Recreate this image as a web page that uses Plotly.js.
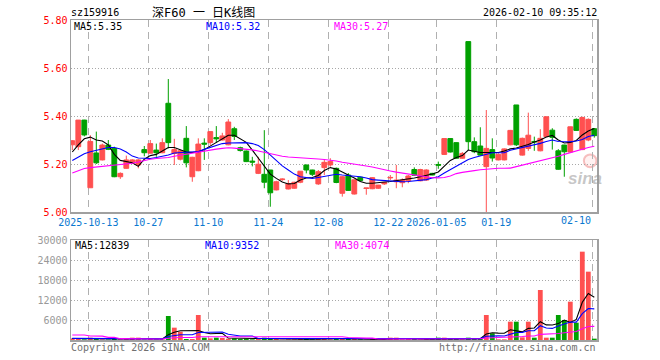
<!DOCTYPE html>
<html>
<head>
<meta charset="utf-8">
<script src="https://cdn.plot.ly/plotly-3.0.1.min.js"></script>
<style>html,body{margin:0;padding:0;background:#fff;}#chart{width:660px;height:360px;}</style>
</head>
<body>
<div id="chart"></div>
<script>
// ---- data ----
const dates = [
 '2025-09-30','2025-10-09','2025-10-10','2025-10-13','2025-10-14','2025-10-15','2025-10-16','2025-10-17','2025-10-20','2025-10-21',
 '2025-10-22','2025-10-23','2025-10-24','2025-10-27','2025-10-28','2025-10-29','2025-10-30','2025-10-31','2025-11-03','2025-11-04',
 '2025-11-05','2025-11-06','2025-11-07','2025-11-10','2025-11-11','2025-11-12','2025-11-13','2025-11-14','2025-11-17','2025-11-18',
 '2025-11-19','2025-11-20','2025-11-21','2025-11-24','2025-11-25','2025-11-26','2025-11-27','2025-11-28','2025-12-01','2025-12-02',
 '2025-12-03','2025-12-04','2025-12-05','2025-12-08','2025-12-09','2025-12-10','2025-12-11','2025-12-12','2025-12-15','2025-12-16',
 '2025-12-17','2025-12-18','2025-12-19','2025-12-22','2025-12-23','2025-12-24','2025-12-25','2025-12-26','2025-12-29','2025-12-30',
 '2025-12-31','2026-01-05','2026-01-06','2026-01-07','2026-01-08','2026-01-09','2026-01-12','2026-01-13','2026-01-14','2026-01-15',
 '2026-01-16','2026-01-19','2026-01-20','2026-01-21','2026-01-22','2026-01-23','2026-01-26','2026-01-27','2026-01-28','2026-01-29',
 '2026-01-30','2026-02-02','2026-02-03','2026-02-04','2026-02-05','2026-02-06','2026-02-09','2026-02-10'];

const openP = [
 5.28,5.272,5.383,5.101,5.246,5.217,5.279,5.265,5.147,5.182,
 5.205,5.196,5.26,5.245,5.258,5.247,5.453,5.244,5.22,5.307,
 5.147,5.172,5.287,5.289,5.31,5.30,5.28,5.347,5.268,5.254,
 5.212,5.161,5.157,5.175,5.092,5.135,5.096,5.099,5.124,5.196,
 5.175,5.117,5.185,5.196,5.182,5.078,5.154,5.075,5.145,5.098,
 5.097,5.099,5.117,5.142,5.126,5.122,5.13,5.177,5.13,5.133,
 5.161,5.198,5.24,5.306,5.289,5.224,5.71,5.293,5.275,5.189,
 5.26,5.217,5.217,5.28,5.446,5.237,5.265,5.294,5.255,5.314,
 5.341,5.255,5.279,5.25,5.386,5.26,5.30,5.347];
const highP = [
 5.30,5.383,5.384,5.32,5.335,5.285,5.30,5.272,5.165,5.235,
 5.22,5.22,5.275,5.30,5.285,5.307,5.554,5.305,5.26,5.358,
 5.23,5.307,5.307,5.335,5.358,5.33,5.387,5.355,5.272,5.256,
 5.23,5.23,5.341,5.175,5.13,5.14,5.133,5.126,5.17,5.197,
 5.176,5.175,5.217,5.224,5.185,5.15,5.162,5.135,5.146,5.10,
 5.145,5.113,5.125,5.154,5.196,5.14,5.154,5.186,5.18,5.178,
 5.163,5.21,5.306,5.307,5.29,5.25,5.71,5.311,5.353,5.425,
 5.307,5.245,5.265,5.342,5.446,5.31,5.414,5.314,5.345,5.397,
 5.349,5.262,5.28,5.356,5.39,5.397,5.39,5.35];
const lowP = [
 5.258,5.258,5.315,5.10,5.20,5.215,5.258,5.145,5.138,5.18,
 5.20,5.182,5.232,5.244,5.23,5.245,5.265,5.196,5.215,5.186,
 5.126,5.17,5.217,5.28,5.289,5.298,5.278,5.30,5.252,5.208,
 5.19,5.158,5.099,5.022,5.09,5.13,5.094,5.097,5.12,5.161,
 5.15,5.113,5.154,5.189,5.12,5.064,5.088,5.073,5.13,5.072,
 5.095,5.096,5.113,5.133,5.099,5.103,5.12,5.15,5.128,5.13,
 5.153,5.18,5.238,5.248,5.222,5.222,5.258,5.245,5.235,5.0,
 5.21,5.215,5.215,5.278,5.275,5.235,5.255,5.255,5.253,5.312,
 5.26,5.176,5.147,5.249,5.338,5.258,5.295,5.31];
const closeP = [
 5.297,5.383,5.321,5.294,5.205,5.279,5.261,5.147,5.161,5.217,
 5.217,5.217,5.247,5.285,5.247,5.289,5.289,5.26,5.255,5.205,
 5.228,5.283,5.283,5.335,5.305,5.317,5.375,5.315,5.256,5.21,
 5.208,5.199,5.124,5.08,5.126,5.137,5.118,5.124,5.17,5.175,
 5.157,5.168,5.207,5.21,5.123,5.147,5.09,5.134,5.131,5.10,
 5.143,5.112,5.123,5.144,5.133,5.133,5.15,5.153,5.177,5.175,
 5.154,5.195,5.306,5.25,5.224,5.244,5.293,5.251,5.237,5.265,
 5.225,5.24,5.263,5.34,5.28,5.307,5.32,5.292,5.307,5.397,
 5.311,5.178,5.251,5.355,5.34,5.394,5.386,5.318];

const ma5 = [
 5.25,5.28,5.305,5.312,5.30,5.296,5.28,5.24,5.215,5.21,
 5.205,5.19,5.22,5.235,5.24,5.254,5.269,5.269,5.258,5.25,
 5.248,5.25,5.26,5.275,5.29,5.306,5.32,5.32,5.306,5.29,
 5.258,5.225,5.188,5.158,5.14,5.125,5.117,5.119,5.133,5.142,
 5.144,5.152,5.173,5.185,5.179,5.167,5.154,5.142,5.127,5.12,
 5.12,5.121,5.125,5.127,5.13,5.133,5.138,5.142,5.147,5.152,
 5.158,5.167,5.192,5.215,5.227,5.235,5.258,5.252,5.248,5.248,
 5.248,5.248,5.254,5.263,5.267,5.273,5.281,5.292,5.30,5.3125,
 5.319,5.30,5.2875,5.29,5.298,5.321,5.3375,5.348];
const ma10 = [
 5.215,5.229,5.243,5.251,5.258,5.265,5.269,5.269,5.2625,5.25,
 5.233,5.225,5.223,5.223,5.227,5.232,5.2375,5.246,5.247,5.247,
 5.248,5.252,5.261,5.269,5.276,5.285,5.2875,5.289,5.289,5.289,
 5.285,5.277,5.26,5.2375,5.215,5.192,5.175,5.158,5.147,5.142,
 5.14,5.144,5.148,5.154,5.157,5.154,5.152,5.15,5.147,5.142,
 5.135,5.133,5.131,5.128,5.126,5.126,5.127,5.129,5.131,5.135,
 5.142,5.147,5.1625,5.177,5.19,5.208,5.219,5.227,5.233,5.242,
 5.247,5.247,5.247,5.257,5.2625,5.269,5.275,5.28,5.286,5.294,
 5.30,5.294,5.293,5.293,5.296,5.302,5.315,5.32];
const ma30 = [
 5.1625,5.173,5.181,5.185,5.1875,5.19,5.1925,5.195,5.197,5.199,
 5.203,5.208,5.215,5.22,5.223,5.225,5.227,5.2325,5.237,5.24,
 5.244,5.248,5.2525,5.257,5.262,5.265,5.2675,5.266,5.264,5.2625,
 5.259,5.254,5.248,5.244,5.2375,5.232,5.229,5.228,5.227,5.225,
 5.223,5.221,5.219,5.217,5.2125,5.207,5.204,5.20,5.196,5.192,
 5.1875,5.183,5.178,5.171,5.166,5.162,5.157,5.153,5.149,5.145,
 5.1425,5.142,5.144,5.15,5.16,5.165,5.1675,5.1725,5.176,5.179,
 5.181,5.182,5.182,5.183,5.189,5.195,5.201,5.207,5.2125,5.219,
 5.225,5.232,5.24,5.248,5.255,5.2625,5.269,5.274];

const volume = [
 500,300,200,700,300,200,150,400,200,300,
 700,700,150,300,200,200,7200,3700,2500,300,
 300,7500,700,500,700,600,400,500,300,400,
 200,300,700,400,300,100,200,200,300,300,
 200,600,300,200,500,300,400,300,200,100,
 300,200,100,700,700,200,300,300,200,300,
 300,700,700,300,300,200,700,300,300,7500,
 2000,200,200,5500,5500,800,5500,700,15000,700,
 700,7500,6000,11500,5200,26500,20500,400];
const volMa5 = [
 450,420,400,420,400,340,310,350,250,250,
 350,460,410,430,410,310,1610,2320,2760,2780,
 2800,2860,2260,1860,1940,2000,580,540,500,440,
 360,340,380,400,380,360,340,240,220,220,
 240,320,340,320,360,380,340,340,340,260,
 260,220,180,280,400,380,400,440,340,260,
 280,360,440,460,460,440,440,360,360,1800,
 2160,2060,2040,3080,2680,2440,3500,3600,5500,4540,
 4520,4920,5980,5280,6180,11340,13940,12839];
const volMa10 = [
 500,490,470,460,440,420,390,370,350,325,
 345,385,380,340,330,330,1035,1365,1595,1595,
 1555,2235,2290,2310,2360,2400,1720,1400,1180,1190,
 1180,460,460,450,410,360,340,310,310,300,
 300,330,290,270,290,310,330,340,330,310,
 320,280,260,310,330,320,310,310,310,330,
 330,380,440,400,360,360,400,400,410,1130,
 1300,1250,1200,1720,2240,2300,2780,2820,4290,3610,
 3480,4210,4790,5390,5360,7930,9430,9352];
const volMa30 = [
 1500,1500,1480,1200,1200,1150,800,780,400,350,
 350,340,330,320,320,310,540,660,740,740,
 740,990,1000,1010,1020,1020,1020,1020,1020,1010,
 1010,1010,1000,1000,990,990,990,990,990,990,
 980,990,990,990,990,990,760,640,560,560,
 560,310,320,330,340,340,340,340,340,340,
 340,350,360,360,360,360,360,360,360,600,
 660,660,660,840,1000,1030,1200,1210,1700,1720,
 1730,1970,2160,2400,2550,3400,4050,4074];

const tickDates  = ['2025-10-13','2025-10-27','2025-11-10','2025-11-24','2025-12-08','2025-12-22','2026-01-05','2026-01-19','2026-02-10'];
const tickLabels = ['2025-10-13','10-27','11-10','11-24','12-08','12-22','2026-01-05','01-19','02-10'];
const priceTicks = [5.00,5.20,5.40,5.60,5.80];
const volTicks   = [6000,12000,18000,24000,30000];

const code = 'sz159916';
const title = '深F60 一 日K线图';
const stamp = '2026-02-10 09:35:12';
const priceLegend = ['MA5:5.35','MA10:5.32','MA30:5.27'];
const volLegend = ['MA5:12839','MA10:9352','MA30:4074'];

// ---- drawing ----
const RED = '#ff5050', GREEN = '#00a000', TICKBLUE = '#0a78d0';
const MONO = 'DejaVu Sans Mono, monospace';
const idx = dates.map((d, i) => i);
const volColors = closeP.map((c, i) => (c >= openP[i] ? RED : GREEN));
const tickPos = tickDates.map(d => dates.indexOf(d) - 0.33);
// the last label is drawn right-aligned to its grid line (as in the reference)
const axisTickText = tickLabels.map((t, i) => (i === tickLabels.length - 1 ? '' : t));

const traces = [
  {type:'candlestick', x: idx, open: openP, high: highP, low: lowP, close: closeP,
   xaxis:'x', yaxis:'y', whiskerwidth:0, hoverinfo:'skip',
   increasing:{line:{color:RED, width:1}, fillcolor:RED},
   decreasing:{line:{color:GREEN, width:1}, fillcolor:GREEN}},
  {type:'scatter', mode:'lines', x: idx, y: ma5,  xaxis:'x', yaxis:'y', line:{color:'#000000', width:1.1}, hoverinfo:'skip'},
  {type:'scatter', mode:'lines', x: idx, y: ma10, xaxis:'x', yaxis:'y', line:{color:'#0000ff', width:1.1}, hoverinfo:'skip'},
  {type:'scatter', mode:'lines', x: idx, y: ma30, xaxis:'x', yaxis:'y', line:{color:'#ff00ff', width:1.1}, hoverinfo:'skip'},
  {type:'bar', x: idx, y: volume, xaxis:'x2', yaxis:'y2', marker:{color: volColors, line:{width:0}}, hoverinfo:'skip'},
  {type:'scatter', mode:'lines', x: idx, y: volMa5,  xaxis:'x2', yaxis:'y2', line:{color:'#000000', width:1.1}, hoverinfo:'skip'},
  {type:'scatter', mode:'lines', x: idx, y: volMa10, xaxis:'x2', yaxis:'y2', line:{color:'#0000ff', width:1.1}, hoverinfo:'skip'},
  {type:'scatter', mode:'lines', x: idx, y: volMa30, xaxis:'x2', yaxis:'y2', line:{color:'#ff00ff', width:1.1}, hoverinfo:'skip'}
];

const frame = {showline:true, mirror:true, linecolor:'#a0a0a0', linewidth:1.5, zeroline:false, fixedrange:true};
const xCommon = Object.assign({}, frame, {
  type:'linear', range:[-0.217, 87.45], tickmode:'array', tickvals: tickPos, ticktext: axisTickText,
  showgrid:true, gridcolor:'#b0b0b0', gridwidth:1, griddash:'7px,5px', ticks:'',
  rangeslider:{visible:false}
});

const ann = (text, x, y, xanchor, color, size, family) => ({
  text, x, y, xref:'paper', yref:'paper', xanchor, yanchor:'middle', showarrow:false,
  font:{family: family || MONO, size: size || 10, color}, borderpad:0
});

const lastLabel = {
  text: tickLabels[tickLabels.length - 1], x: tickPos[tickPos.length - 1], xref:'x',
  y: 0.372, yref:'paper', xanchor:'right', yanchor:'middle', showarrow:false, borderpad:0,
  font:{family: MONO, size:10, color: TICKBLUE}
};

const layout = {
  width:660, height:360,
  margin:{l:71, r:63, t:20, b:20, pad:0},
  paper_bgcolor:'#ffffff', plot_bgcolor:'#ffffff',
  showlegend:false,
  boxgap:0.2, boxgroupgap:0, bargap:0.2,
  font:{family: MONO, size:10, color:'#000'},
  xaxis: Object.assign({}, xCommon, {domain:[0,1], anchor:'y',
    tickfont:{family: MONO, size:10, color: TICKBLUE}}),
  xaxis2: Object.assign({}, xCommon, {domain:[0,1], anchor:'y2', showticklabels:false}),
  yaxis: Object.assign({}, frame, {domain:[0.4,1], anchor:'x', range:[5.0,5.8],
    tickmode:'array', tickvals: priceTicks, tickformat:'.2f', ticks:'',
    tickfont:{family: MONO, size:10, color:'#ff0000'},
    showgrid:true, gridcolor:'#a8a8a8', gridwidth:1, griddash:'1px,2px'}),
  yaxis2: Object.assign({}, frame, {domain:[0,0.3125], anchor:'x2', range:[0,30000],
    tickmode:'array', tickvals: volTicks, tickformat:'d', ticks:'',
    tickfont:{family: MONO, size:10, color:'#999999'},
    showgrid:true, gridcolor:'#a8a8a8', gridwidth:1, griddash:'1px,2px'}),
  annotations: [
    ann(code, -0.002, 1.022, 'left', '#000'),
    ann(title, 0.152, 1.022, 'left', '#000', 12, 'DejaVu Sans Mono, Noto Sans CJK SC'),
    ann(stamp, 1.002, 1.022, 'right', '#000'),
    ann(priceLegend[0], 0.004, 0.981, 'left', '#000000'),
    ann(priceLegend[1], 0.255, 0.981, 'left', '#0000ff'),
    ann(priceLegend[2], 0.498, 0.981, 'left', '#ff00ff'),
    ann(volLegend[0], 0.006, 0.294, 'left', '#000000'),
    ann(volLegend[1], 0.253, 0.294, 'left', '#0000ff'),
    ann(volLegend[2], 0.5, 0.294, 'left', '#ff00ff'),
    ann('Copyright 2026 SINA.COM', -0.002, -0.022, 'left', '#707070'),
    ann('http://finance.sina.com.cn', 1.0, -0.022, 'right', '#707070'),
    lastLabel,
    {text:'<b><i>sina</i></b>', x:0.977, y:0.505, xref:'paper', yref:'paper', xanchor:'center', yanchor:'middle',
     showarrow:false, font:{family:'Liberation Sans, Arial', size:17, color:'rgba(150,150,150,0.55)'}}
  ],
  shapes: [
    {type:'circle', xref:'paper', yref:'paper', x0:0.975, x1:0.999, y0:0.54, y1:0.58,
     line:{color:'rgba(235,120,120,0.45)', width:2}, fillcolor:'rgba(255,200,200,0.25)', layer:'below'}
  ]
};

Plotly.newPlot('chart', traces, layout, {staticPlot:true, displayModeBar:false});
</script>
</body>
</html>
